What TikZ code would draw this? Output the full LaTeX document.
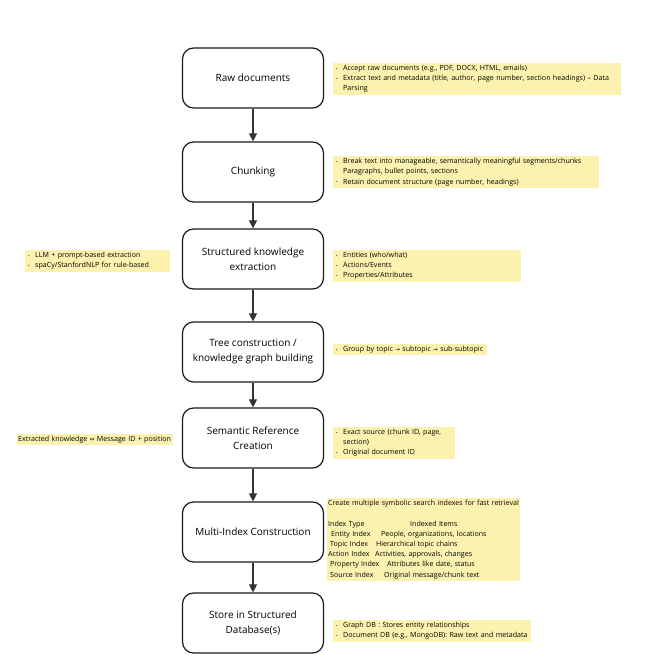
\documentclass[tikz,border=0pt]{standalone}
\usepackage{fontspec}
\setmainfont{Open Sans}
\newfontfamily\symfont{DejaVu Sans}
\usetikzlibrary{arrows.meta}
\definecolor{notey}{HTML}{FCF2B0}
\definecolor{arrowc}{HTML}{333333}
\newcommand{\bl}{\makebox[7pt][l]{\raisebox{0.15ex}{\scalebox{0.6}{•}}}}
\newcommand{\ind}{\hspace*{7pt}}
\newcommand{\rarr}{{\symfont\scalebox{0.8}{→}}}
\begin{document}
\begin{tikzpicture}[x=1pt,y=-1pt,
  stepbox/.style={draw=black!90,line width=1.2pt,rounded corners=11pt,minimum width=141pt,minimum height=60pt,align=center,font=\fontsize{10}{15}\selectfont,inner sep=2pt},
  note/.style={fill=notey,anchor=north west,align=left,font=\fontsize{7.1}{10.2}\selectfont,inner xsep=3pt,inner ysep=2pt},
  flow/.style={draw=arrowc,line width=1.1pt,-{Triangle[length=8pt,width=8pt]}}]
\useasboundingbox (0,0) rectangle (657,658);
\node[stepbox] (s1) at (253,78) {Raw documents};
\node[stepbox] (s2) at (253,172) {Chunking};
\node[stepbox] (s3) at (253,259) {Structured knowledge\\extraction};
\node[stepbox] (s4) at (253,352) {Tree construction /\\knowledge graph building};
\node[stepbox] (s5) at (253,438) {Semantic Reference\\Creation};
\node[stepbox] (s6) at (253,532) {Multi-Index Construction};
\node[stepbox] (s7) at (253,623) {Store in Structured\\Database(s)};
\foreach \a/\b in {s1/s2,s2/s3,s3/s4,s4/s5,s5/s6,s6/s7} \draw[flow] (\a) -- (\b);

\node[note,text width=282pt] (n1) at (333,63) {\bl Accept raw documents (e.g., PDF, DOCX, HTML, emails)\\\bl Extract text and metadata (title, author, page number, section headings) -- Data\\\ind Parsing};
\node[note,text width=260pt] (n2) at (333,156) {\bl Break text into manageable, semantically meaningful segments/chunks\\\ind Paragraphs, bullet points, sections\\\bl Retain document structure (page number, headings)};
\node[note,text width=139pt] (n3) at (25,250) {\bl LLM + prompt-based extraction\\\bl spaCy/StanfordNLP for rule-based};
\node[note,text width=182pt] (n4) at (333,250) {\bl Entities (who/what)\\\bl Actions/Events\\\bl Properties/Attributes};
\node[note,text width=148pt] (n5) at (333,344) {\bl Group by topic \rarr{} subtopic \rarr{} sub-subtopic};
\node[note,inner xsep=1pt,text width=154pt] (n6) at (17,434) {Extracted knowledge {\symfont\scalebox{0.8}{⇔}} Message ID + position};
\node[note,text width=116pt] (n7) at (333,427) {\bl Exact source (chunk ID, page,\\\ind section)\\\bl Original document ID};
\node[note,inner xsep=1pt,text width=191pt] (n8) at (327,498) {\mbox{Create multiple symbolic search indexes for fast retrieval}\\[10.2pt]%
\makebox[82pt][l]{Index Type}Indexed Items\\
\makebox[53pt][l]{\hspace*{3pt}Entity Index}People, organizations, locations\\
\makebox[48pt][l]{\hspace*{2pt}Topic Index}Hierarchical topic chains\\
\makebox[47pt][l]{Action Index}Activities, approvals, changes\\
\makebox[59pt][l]{\hspace*{2pt}Property Index}Attributes like date, status\\
\makebox[56pt][l]{\hspace*{2pt}Source Index}Original message/chunk text};
\node[note,text width=192pt] (n9) at (333,620) {\bl Graph DB : Stores entity relationships\\\bl Document DB (e.g., MongoDB): Raw text and metadata};
\end{tikzpicture}
\end{document}
